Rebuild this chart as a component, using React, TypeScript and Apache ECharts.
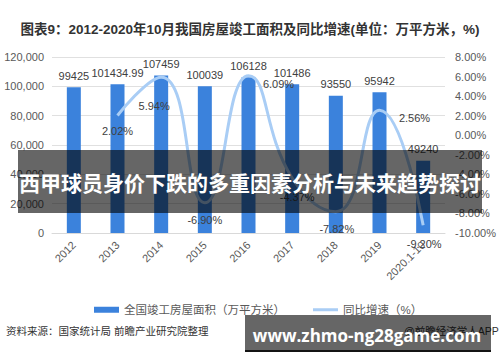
import React, { useEffect, useRef } from "react";
import * as echarts from "echarts";

const categories = ["2012", "2013", "2014", "2015", "2016", "2017", "2018", "2019", "2020.1-10"];
const areaValues = [99425, 101434.99, 107459, 100039, 106128, 101486, 93550, 95942, 49240];
const growthValues: (number | null)[] = [null, 2.02, 5.94, -6.9, 6.09, -4.37, -7.82, 2.56, -9.2];
const growthLabelOffsets: number[][] = [[0, 0], [0, 16], [-7, 29], [0, 17], [30, 8], [5, 19], [1, 17], [35, 8], [1, 19]];
const leftTicks = { min: 0, max: 120000, interval: 20000 };
const rightTicks = { min: -10, max: 8, interval: 2 };

const FONT = "'Liberation Sans', 'Noto Sans CJK SC', sans-serif";

export default function App() {
  const ref = useRef<HTMLDivElement>(null);
  useEffect(() => {
    document.body.style.margin = "0";
    const chart = echarts.init(ref.current!, null, { renderer: "svg" });
    chart.setOption({
      animation: false,
      backgroundColor: "#ffffff",
      textStyle: { fontFamily: FONT },
      title: {
        text: "图表9：2012-2020年10月我国房屋竣工面积及同比增速(单位：万平方米，%)",
        left: "center",
        top: 18,
        textStyle: { fontSize: 13.5, fontWeight: "bold", color: "#333333", fontFamily: FONT },
      },
      grid: { left: 52, right: 55, top: 57, bottom: 129 },
      legend: {
        left: 89,
        top: 299,
        itemWidth: 25,
        itemHeight: 6,
        itemGap: 28,
        textStyle: { fontSize: 11.5, color: "#595959", fontFamily: FONT },
        data: [
          { name: "全国竣工房屋面积（万平方米）", icon: "rect" },
          { name: "同比增速（%）", icon: "path://M0,0 L50,0 L50,6 L0,6 Z" },
        ],
      },
      xAxis: {
        type: "category",
        data: categories,
        axisTick: { show: false },
        axisLine: { lineStyle: { color: "#d9d9d9" } },
        axisLabel: { rotate: 45, fontSize: 11, color: "#595959", margin: 10 },
      },
      yAxis: [
        {
          type: "value",
          ...leftTicks,
          axisLabel: { fontSize: 11, color: "#595959", margin: 8 },
          splitLine: { lineStyle: { color: "#e0e0e0" } },
          axisLine: { show: false },
          axisTick: { show: false },
        },
        {
          type: "value",
          ...rightTicks,
          axisLabel: {
            fontSize: 11,
            color: "#595959",
            margin: 10,
            formatter: (v: number) => v.toFixed(2) + "%",
          },
          splitLine: { show: false },
          axisLine: { show: false },
          axisTick: { show: false },
        },
      ],
      series: [
        {
          name: "全国竣工房屋面积（万平方米）",
          type: "bar",
          data: areaValues,
          barWidth: 14,
          itemStyle: { color: "#3b82dc" },
          label: {
            show: true,
            position: "top",
            distance: 6,
            fontSize: 11,
            color: "#404040",
            formatter: (p: any) => String(p.value),
          },
        },
        {
          name: "同比增速（%）",
          type: "line",
          yAxisIndex: 1,
          smooth: 0.5,
          symbol: "circle",
          symbolSize: 0.1,
          showSymbol: true,
          connectNulls: false,
          lineStyle: { color: "#a9cdf5", width: 3 },
          itemStyle: { color: "#a9cdf5" },
          label: {
            show: true,
            position: "inside",
            fontSize: 11,
            color: "#404040",
            formatter: (p: any) => Number(p.value).toFixed(2) + "%",
          },
          data: growthValues.map((v, i) => ({
            value: v,
            label: { offset: growthLabelOffsets[i] },
          })),
        },
      ],
      graphic: [
        {
          type: "text",
          left: 6,
          top: 326,
          style: { text: "资料来源：国家统计局 前瞻产业研究院整理", fontSize: 10.5, fill: "#333333", fontFamily: FONT },
        },
        {
          type: "text",
          left: 404,
          top: 326,
          style: { text: "@前瞻经济学人APP", fontSize: 10.5, fill: "#333333", fontFamily: FONT },
        },
        {
          type: "rect",
          shape: { x: 18, y: 150, width: 464, height: 63 },
          style: { fill: "rgba(0,0,0,0.6)" },
          z: 100,
        },
        {
          type: "text",
          x: 250,
          y: 182,
          z: 101,
          style: {
            text: "西甲球员身价下跌的多重因素分析与未来趋势探讨",
            fontSize: 21,
            fontWeight: "bold",
            fill: "#ffffff",
            align: "center",
            verticalAlign: "middle",
            fontFamily: "'Noto Sans CJK SC', sans-serif",
          },
        },
        {
          type: "rect",
          shape: { x: 245, y: 315, width: 246, height: 37 },
          style: { fill: "rgba(0,0,0,0.6)" },
          z: 100,
        },
        {
          type: "rect",
          shape: { x: 245, y: 350, width: 246, height: 2 },
          style: { fill: "rgba(0,0,0,0.8)" },
          z: 100,
        },
        {
          type: "text",
          x: 367,
          y: 335,
          z: 101,
          style: {
            text: "www.zhmo-ng28game.com",
            fontSize: 17,
            fontWeight: "bold",
            fill: "#ffffff",
            align: "center",
            verticalAlign: "middle",
            fontFamily: "'Open Sans', 'DejaVu Sans', sans-serif",
          },
        },
      ],
    });
    return () => chart.dispose();
  }, []);
  return <div ref={ref} style={{ width: 500, height: 362, position: "absolute", left: 0, top: 0 }} />;
}
